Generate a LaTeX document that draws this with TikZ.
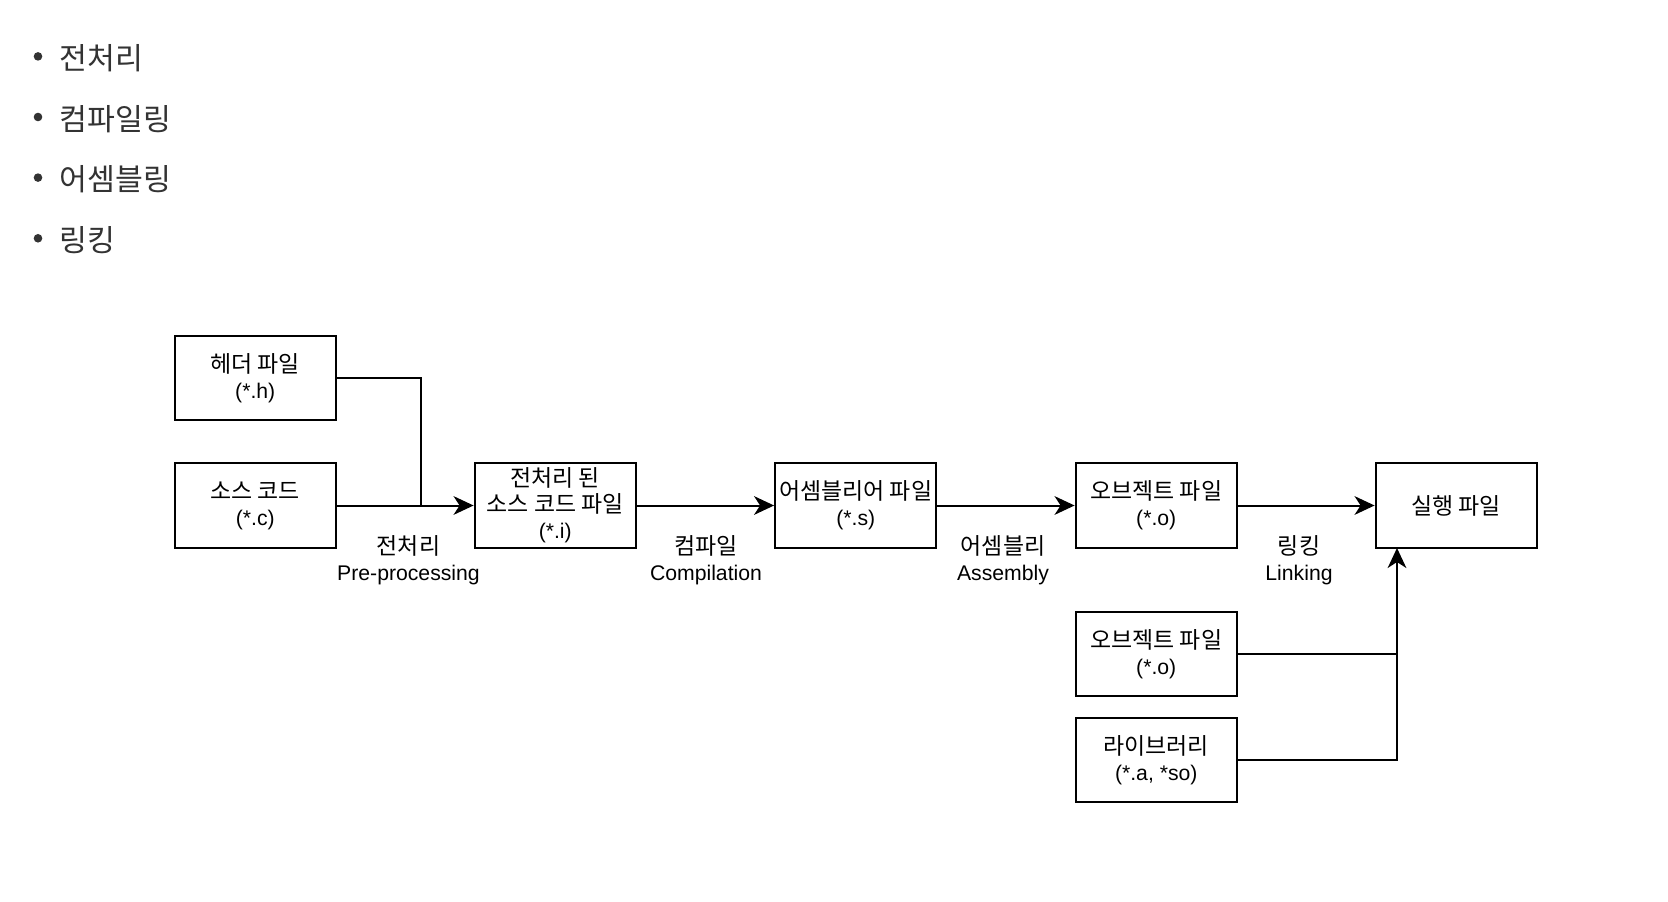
\documentclass[tikz,border=0pt]{standalone}
\usepackage{fontspec}
\setmainfont{Liberation Sans}
\newfontfamily\kr{Noto Sans CJK KR}
\newcommand{\krd}{\kr\fontsize{17.2}{19.5}\selectfont}
\usetikzlibrary{arrows.meta}
\definecolor{txtgray}{HTML}{333333}
\begin{document}
\begin{tikzpicture}[x=0.75pt,y=-0.75pt,
  box/.style={draw=black,line width=1.5pt,minimum width=121pt,minimum height=63.5pt,inner sep=0pt,align=center,font=\fontsize{15.9}{19.5}\selectfont},
  lbl/.style={align=center,inner sep=0pt,font=\fontsize{15.9}{19.5}\selectfont},
  conn/.style={line width=1.5pt,draw=black},
  arr/.style={conn,-{Stealth[length=15pt,width=14pt,inset=4.5pt]}},
  bul/.style={anchor=west,inner sep=0pt,text=txtgray,font=\kr\fontsize{22.7}{26}\selectfont}
]
\useasboundingbox (0,0) rectangle (1668,902);
\fill[white] (0,0) rectangle (1668,902);

% bullet list
\foreach \yy/\tt [count=\i] in {56.4/전처리,117/컴파일링,177.6/어셈블링,238.3/링킹}{
  \fill[txtgray] (38,\yy) circle (4.3);
  \node[bul] (b\i) at (59.6,\yy+2) {\tt};
}

% boxes
\node[box] (hdr) at (255.25,378) {{\krd 헤더 파일}\\(*.h)};
\node[box] (src) at (255.25,505.5) {{\krd 소스 코드}\\(*.c)};
\node[box] (pre) at (555.25,505.5) {{\krd 전처리 된}\\{\krd 소스 코드 파일}\\(*.i)};
\node[box] (asm) at (855.75,505.5) {{\krd 어셈블리어 파일}\\(*.s)};
\node[box] (obj) at (1156.25,505.5) {{\krd 오브젝트 파일}\\(*.o)};
\node[box] (exe) at (1456.25,505.5) {\krd 실행 파일};
\node[box] (obj2) at (1156.25,654) {{\krd 오브젝트 파일}\\(*.o)};
\node[box] (lib) at (1156.25,760) {{\krd 라이브러리}\\(*.a, *so)};

% connector helpers
\coordinate (j1) at (421,505.5);
\coordinate (ein) at (1397,548);

% connectors
\draw[conn] (hdr.east) -| (j1);
\draw[arr] (src.east) -- (pre.west);
\draw[arr] (pre.east) -- (asm.west);
\draw[arr] (asm.east) -- (obj.west);
\draw[arr] (obj.east) -- (exe.west);
\draw[arr] (lib.east) -| (ein);
\draw[conn] (obj2.east) -- (obj2.east -| ein);

% labels
\node[lbl] (l1) at (408.5,560) {{\krd 전처리}\\Pre-processing};
\node[lbl] (l2) at (706,560) {{\krd 컴파일}\\Compilation};
\node[lbl] (l3) at (1003,560) {{\krd 어셈블리}\\Assembly};
\node[lbl] (l4) at (1299,560) {{\krd 링킹}\\Linking};
\end{tikzpicture}
\end{document}
